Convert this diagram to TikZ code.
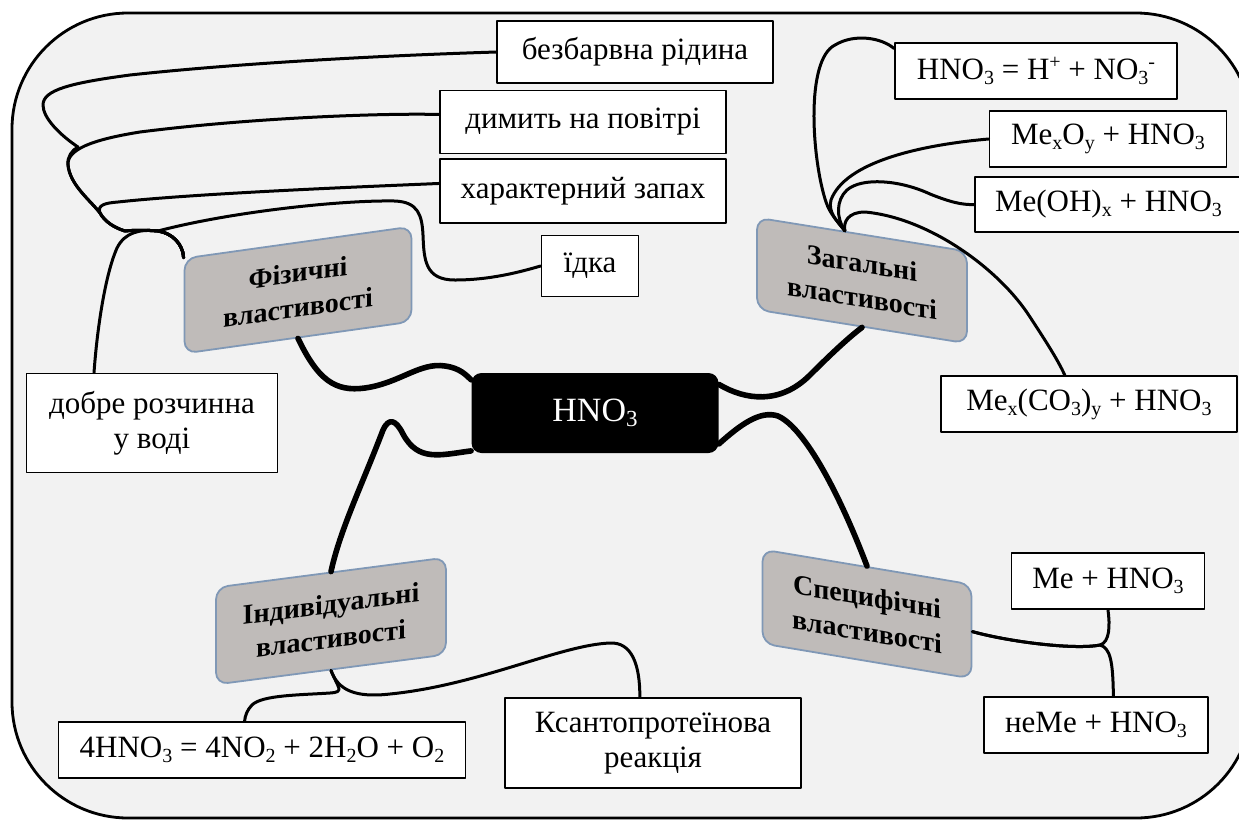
\documentclass[tikz,border=0pt]{standalone}
\usepackage{fontspec}
\setmainfont{Liberation Serif}
\definecolor{bggray}{RGB}{242,242,242}
\definecolor{catgray}{RGB}{191,187,185}
\definecolor{catline}{RGB}{128,152,182}
\newcommand{\chsub}[1]{\raisebox{-.35ex}{\fontsize{10}{10}\selectfont #1}}
\newcommand{\chsup}[1]{\raisebox{.75ex}{\fontsize{10}{10}\selectfont #1}}
\tikzset{
  leaf/.style={draw, fill=white, line width=.9pt, inner sep=0pt, align=center,
    font=\fontsize{15.5}{17.5}\selectfont},
  cat/.style={draw=catline, fill=catgray, line width=.9pt, rounded corners=6pt,
    inner sep=0pt, align=center, font=\fontsize{14}{17.5}\selectfont\bfseries},
  leafline/.style={line width=1.5pt},
  mainline/.style={line width=2.8pt}
}
\begin{document}
\begin{tikzpicture}[x=.5pt,y=-.5pt,line join=round,line cap=round]
        \useasboundingbox (0,0) rectangle (1239,821);
        \draw[fill=bggray, line width=1.4pt, rounded corners=58pt] (12,13) rectangle (1252,818);
        \node[fill=black, rounded corners=5pt, minimum width=123.5pt, minimum height=40pt, text=white, font=\fontsize{17}{20}\selectfont] (hno) at (595,413) {HNO\raisebox{-.35ex}{\fontsize{11.5}{11.5}\selectfont 3}};
        \node[cat, yslant=.14, minimum width=113.5pt, minimum height=47.5pt] (phys) at (298,290) {Фізичні\\властивості};
        \node[cat, yslant=-.16, minimum width=105pt, minimum height=46pt] (zag) at (862,280.5) {Загальні\\властивості};
        \node[cat, yslant=.13, minimum width=115pt, minimum height=48.5pt] (indiv) at (331,621) {Індивідуальні\\властивості};
        \node[cat, yslant=-.167, minimum width=104.5pt, minimum height=47pt] (spec) at (867,614) {Специфічні\\властивості};
        \node[leaf, minimum width=138pt, minimum height=31pt] (bez) at (635,52) {безбарвна рідина};
        \node[leaf, minimum width=143pt, minimum height=31.5pt] (dim) at (583,122) {димить на повітрі};
        \node[leaf, minimum width=143pt, minimum height=32pt] (har) at (583,191) {характерний запах};
        \node[leaf, minimum width=48.5pt, minimum height=30.5pt] (idk) at (590,266) {їдка};
        \node[leaf, minimum width=125.5pt, minimum height=49.5pt] (dob) at (152,423) {добре розчинна\\у воді};
        \node[leaf, minimum width=141pt, minimum height=28pt] (ion) at (1036,71) {HNO\chsub{3} = H\chsup{+} + NO\chsub{3}\chsup{-}};
        \node[leaf, minimum width=118.5pt, minimum height=28pt] (meo) at (1108,139) {Me\chsub{x}O\chsub{y} + HNO\chsub{3}};
        \node[leaf, minimum width=133.5pt, minimum height=27.5pt] (meoh) at (1108.5,204.5) {Me(OH)\chsub{x} + HNO\chsub{3}};
        \node[leaf, minimum width=148pt, minimum height=28pt] (mco) at (1089,404) {Me\chsub{x}(CO\chsub{3})\chsub{y} + HNO\chsub{3}};
        \node[leaf, minimum width=96.5pt, minimum height=28pt] (me) at (1108,581) {Me + HNO\chsub{3}};
        \node[leaf, minimum width=112pt, minimum height=28pt] (neme) at (1096,725) {неMe + HNO\chsub{3}};
        \node[leaf, minimum width=148pt, minimum height=45pt] (ksa) at (653,743) {Ксантопротеїнова\\реакція};
        \node[leaf, minimum width=203.5pt, minimum height=28pt] (eq) at (262,750) {4HNO\chsub{3} = 4NO\chsub{2} + 2H\chsub{2}O + O\chsub{2}};
        \draw[mainline] (phys.south) .. controls (318,380) and (335,392) .. (365,388) .. controls (400,383) and (420,362) .. (445,366) .. controls (460,368) and (466,375) .. (hno.165);
        \draw[mainline] (hno.197) .. controls (440,455) and (418,462) .. (403,434) .. controls (396,420) and (389,417) .. (383,430) .. controls (362,485) and (340,530) .. (indiv.north);
        \draw[mainline] (hno.13) .. controls (745,400) and (780,405) .. (810,375) .. controls (830,355) and (848,338) .. (zag.south);
        \draw[mainline] (hno.-14) .. controls (740,425) and (760,410) .. (778,416) .. controls (805,428) and (840,495) .. (spec.north);
        \draw[leafline] (phys.north west) .. controls (183,244) and (172,233) .. (158,231) .. controls (140,229) and (125,232) .. (117,248) .. controls (105,275) and (97,330) .. (dob.139);
        \draw[leafline] (phys.north west) .. controls (183,244) and (172,233) .. (158,231) .. controls (145,230) and (135,230) .. (125,231) .. controls (115,228) and (105,222) .. (100,213) .. controls (97,205) and (105,203) .. (118,202) .. controls (200,193) and (380,186) .. (har.177);
        \draw[leafline] (phys.north west) .. controls (183,244) and (172,233) .. (158,231) .. controls (145,230) and (135,230) .. (125,231) .. controls (115,228) and (105,222) .. (100,213) .. controls (90,200) and (70,185) .. (68,165) .. controls (67,150) and (90,140) .. (140,132) .. controls (250,118) and (380,113) .. (dim.177);
        \draw[leafline] (phys.north west) .. controls (183,244) and (172,233) .. (158,231) .. controls (145,230) and (135,230) .. (125,231) .. controls (115,228) and (105,222) .. (100,213) .. controls (90,200) and (70,185) .. (68,165) .. controls (67,157) and (72,150) .. (78,147) .. controls (60,135) and (43,118) .. (43,105) .. controls (43,90) and (70,83) .. (130,75) .. controls (250,62) and (400,55) .. (bez.west);
        \draw[leafline] (phys.north west) .. controls (183,244) and (172,233) .. (158,231) .. controls (230,212) and (340,200) .. (395,201) .. controls (418,202) and (422,215) .. (423,235) .. controls (424,260) and (425,280) .. (455,280) .. controls (490,280) and (520,272) .. (idk.west);
        \draw[leafline] (zag.110) .. controls (838,222) and (830,214) .. (826,202) .. controls (812,160) and (805,60) .. (835,45) .. controls (855,33) and (882,38) .. (ion.171);
        \draw[leafline] (zag.110) .. controls (836,220) and (828,212) .. (831,200) .. controls (845,162) and (920,145) .. (meo.west);
        \draw[leafline] (zag.110) .. controls (836,218) and (836,200) .. (847,190) .. controls (862,177) and (900,180) .. (930,194) .. controls (950,202) and (962,205) .. (meoh.west);
        \draw[leafline] (zag.110) .. controls (843,222) and (848,212) .. (865,212) .. controls (930,218) and (1000,270) .. (1030,317) .. controls (1045,340) and (1058,360) .. (mco.130);
        \draw[leafline] (spec.east) .. controls (1010,642) and (1075,650) .. (1100,645) .. controls (1110,642) and (1110,625) .. (me.south);
        \draw[leafline] (spec.east) .. controls (1010,642) and (1075,650) .. (1100,645) .. controls (1110,648) and (1113,660) .. (neme.59);
        \draw[leafline] (indiv.south) .. controls (338,690) and (355,698) .. (390,694) .. controls (480,685) and (560,645) .. (610,643) .. controls (632,642) and (640,665) .. (ksa.106);
        \draw[leafline] (indiv.south) .. controls (338,688) and (345,692) .. (330,693) .. controls (300,695) and (262,695) .. (252,705) .. controls (247,710) and (245,716) .. (eq.121);
\end{tikzpicture}
\end{document}
